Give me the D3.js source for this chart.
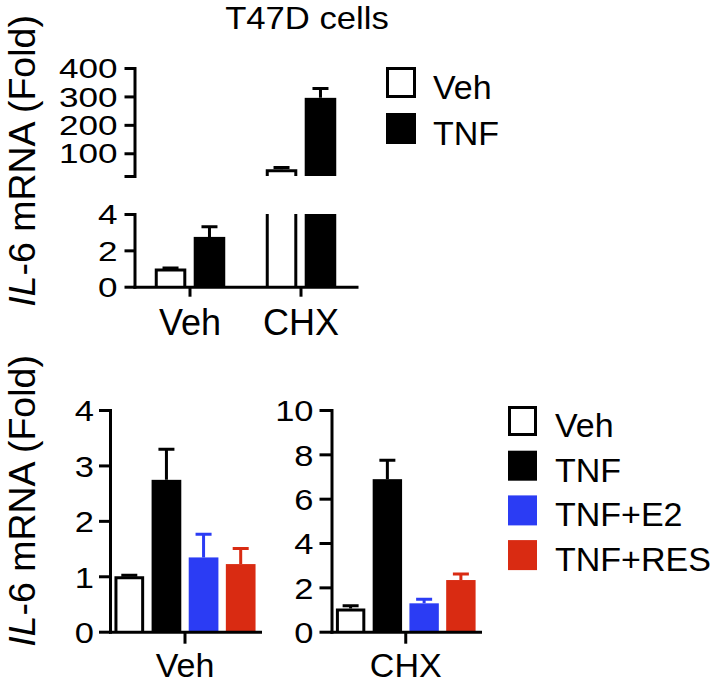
<!DOCTYPE html>
<html><head><meta charset="utf-8">
<script src="https://cdn.jsdelivr.net/npm/d3@7"></script>
<style>html,body{margin:0;padding:0;background:#fff}</style>
</head><body><svg id="c" width="722" height="684"></svg>
<script>
// ---------- data ----------
const title = "T47D cells";
const topGroups = ["Veh", "CHX"];
const topSeries = ["Veh", "TNF"];
const topVehMeans = [1.0, 2.74];
const topVehErrors = [0.03, 0.56];
const topChxMeans = [44, 295];
const topChxErrors = [6, 33];
const topUpperTicks = [20, 100, 200, 300, 400];
const topLowerTicks = [0, 2, 4];

const bottomSeries = ["Veh", "TNF", "TNF+E2", "TNF+RES"];
const vehMeans = [1.0, 2.74, 1.34, 1.22];
const vehErrors = [0.02, 0.55, 0.42, 0.28];
const chxMeans = [1.05, 6.88, 1.28, 2.33];
const chxErrors = [0.12, 0.85, 0.18, 0.27];
const vehTicks = [0, 1, 2, 3, 4];
const chxTicks = [0, 2, 4, 6, 8, 10];
const seriesColors = ["#ffffff", "#000000", "#2b3cf4", "#d92b12"];

// ---------- setup ----------
const FONT = "'Liberation Sans', Arial, Helvetica, sans-serif";
const svg = d3.select("#c").style("font-family", FONT);
const LW = 3;
const intFmt = d3.format("d");

function styleAxis(g) {
  g.attr("font-family", FONT);
  g.select(".domain").attr("stroke", "#000").attr("stroke-width", LW).attr("stroke-linecap", "square");
  g.selectAll(".tick line").attr("stroke", "#000").attr("stroke-width", LW);
}
function leftAxis(x, scale, ticks, size, pad, fs, sx, fmt) {
  const ax = d3.axisLeft(scale).tickValues(ticks).tickSize(size).tickSizeOuter(0).tickPadding(pad)
    .tickFormat(fmt || intFmt);
  const g = svg.append("g").attr("transform", `translate(${x},0)`).call(ax);
  styleAxis(g);
  g.selectAll(".tick text").attr("x", null).attr("dy", "0.36em")
    .attr("transform", `translate(${-(size + pad)},0) scale(${sx},1)`)
    .attr("font-size", fs).attr("fill", "#000");
  return g;
}
function bottomAxis(y, scale, size, baseOff, fs) {
  const g = svg.append("g").attr("transform", `translate(0,${y})`)
    .call(d3.axisBottom(scale).tickSize(size).tickSizeOuter(0));
  styleAxis(g);
  g.selectAll(".tick text").attr("y", baseOff).attr("dy", 0).attr("font-size", fs).attr("fill", "#000");
  return g;
}
function bar(x, w, yBase, yTop, color, openTop) {
  if (color === "#ffffff") {
    svg.append("rect").attr("x", x).attr("y", yTop).attr("width", w).attr("height", yBase - yTop).attr("fill", "#fff");
    const h = LW / 2;
    const p = openTop
      ? `M${x + h},${yTop}V${yBase}M${x + w - h},${yTop}V${yBase}`
      : `M${x + h},${yBase}V${yTop + h}H${x + w - h}V${yBase}`;
    svg.append("path").attr("d", p).attr("fill", "none").attr("stroke", "#000").attr("stroke-width", LW);
  } else {
    svg.append("rect").attr("x", x).attr("y", yTop).attr("width", w).attr("height", yBase - yTop).attr("fill", color);
  }
}
function errBar(cx, y0, y1, color, cap) {
  const c = color === "#ffffff" ? "#000" : color;
  svg.append("path").attr("d", `M${cx},${y0}V${y1}M${cx - cap / 2},${y1}H${cx + cap / 2}`)
    .attr("fill", "none").attr("stroke", c).attr("stroke-width", LW);
}
function yLabel(x, y) {
  const t = svg.append("text").attr("transform", `translate(${x},${y}) rotate(-90)`)
    .attr("text-anchor", "middle").attr("font-size", 37.5).attr("fill", "#000");
  t.append("tspan").attr("font-style", "italic").text("IL");
  t.append("tspan").text("-6 mRNA (Fold)");
}
function legend(x, y0, step, bw, bh, items, colors, fs, tx) {
  items.forEach((name, i) => {
    const y = y0 + i * step;
    if (colors[i] === "#ffffff") {
      svg.append("rect").attr("x", x + LW / 2).attr("y", y + LW / 2).attr("width", bw - LW).attr("height", bh - LW)
        .attr("fill", "#fff").attr("stroke", "#000").attr("stroke-width", LW);
    } else {
      svg.append("rect").attr("x", x).attr("y", y).attr("width", bw).attr("height", bh).attr("fill", colors[i]);
    }
    svg.append("text").attr("x", tx).attr("y", y + bh + 1).attr("font-size", fs).attr("fill", "#000").text(name);
  });
}

// ---------- title ----------
svg.append("text").attr("transform", "translate(307,29) scale(1.1,1)").attr("text-anchor", "middle")
  .attr("font-size", 31.5).attr("fill", "#000").text(title);

// ---------- top panel ----------
const xTop = d3.scaleBand().domain(topGroups).range([134.5, 356.5]).padding(0);
const xTopIn = d3.scaleBand().domain(topSeries).range([0, xTop.bandwidth()]).paddingInner(0.19).paddingOuter(0.52);
const yUp = d3.scaleLinear().domain([20, 400]).range([176, 68]);
const yLow = d3.scaleLinear().domain([0, 4]).range([286.7, 214]);

leftAxis(134.5, yUp, topUpperTicks, 10, 7, 27, 1.3, d => d === 20 ? "" : intFmt(d));
leftAxis(134.5, yLow, topLowerTicks, 10, 7, 27, 1.3);

const topData = [[topVehMeans, topVehErrors], [topChxMeans, topChxErrors]];
topGroups.forEach((grp, gi) => {
  const [means, errs] = topData[gi];
  topSeries.forEach((s, si) => {
    const x = xTop(grp) + xTopIn(s), w = xTopIn.bandwidth(), cx = x + w / 2;
    const v = means[si], e = errs[si], col = seriesColors[si];
    if (v <= yLow.domain()[1]) {
      bar(x, w, yLow(0), yLow(v), col, false);
      errBar(cx, yLow(v), yLow(v + e), col, 16);
    } else {
      bar(x, w, yLow(0), yLow(yLow.domain()[1]), col, true);
      bar(x, w, yUp(yUp.domain()[0]), yUp(v), col, false);
      errBar(cx, yUp(v), yUp(v + e), col, 16);
    }
  });
});
bottomAxis(286.7, xTop, 10, 48, 36);
legend(386, 67, 46, 30, 31, topSeries, seriesColors, 34, 433);

// ---------- bottom panels ----------
const yB1 = d3.scaleLinear().domain([0, 4]).range([631.7, 410]);
const yB2 = d3.scaleLinear().domain([0, 10]).range([631.7, 410]);
function bottomPanel(group, x0, x1, yScale, ticks, means, errs, tsz, pad) {
  const xg = d3.scaleBand().domain([group]).range([x0, x1]);
  const xi = d3.scaleBand().domain(bottomSeries).range([0, xg.bandwidth()]).paddingInner(0.2).paddingOuter(0.12);
  leftAxis(x0, yScale, ticks, tsz, pad, 30, 1.15);
  bottomSeries.forEach((s, i) => {
    const x = xg(group) + xi(s), w = xi.bandwidth(), cx = x + w / 2;
    bar(x, w, yScale(0), yScale(means[i]), seriesColors[i], false);
    errBar(cx, yScale(means[i]), yScale(means[i] + errs[i]), seriesColors[i], 16);
  });
  bottomAxis(631.7, xg, 12, 45.5, 34);
}
bottomPanel("Veh", 110, 260, yB1, vehTicks, vehMeans, vehErrors, 11, 5);
bottomPanel("CHX", 331.5, 480, yB2, chxTicks, chxMeans, chxErrors, 12, 6);

legend(508, 406, 44.7, 29, 30, bottomSeries, seriesColors, 34, 555);

// ---------- y labels ----------
yLabel(35, 161);
yLabel(35, 501);
</script>
</body></html>
